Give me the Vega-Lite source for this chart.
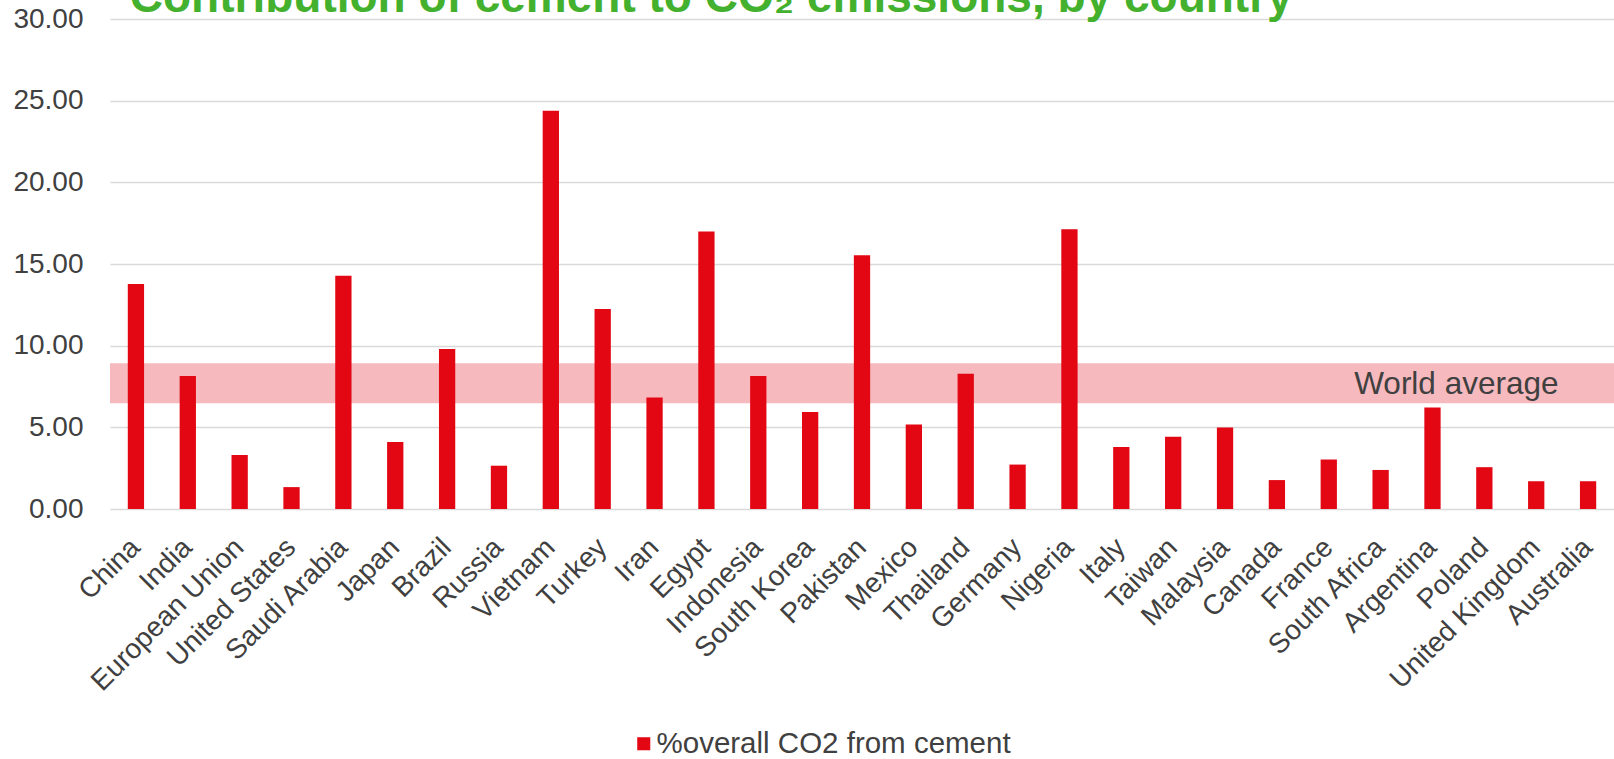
{
  "$schema": "https://vega.github.io/schema/vega-lite/v6.json",
  "width": 1504,
  "height": 490,
  "autosize": {"type": "none"},
  "padding": {"left": 110, "top": 19, "right": 0, "bottom": 250},
  "background": "white",
  "config": {
    "font": "Liberation Sans",
    "view": {"stroke": null}
  },
  "datasets": {
    "cement": [
      {"country": "China", "share": 13.78},
      {"country": "India", "share": 8.14},
      {"country": "European Union", "share": 3.3},
      {"country": "United States", "share": 1.34},
      {"country": "Saudi Arabia", "share": 14.28},
      {"country": "Japan", "share": 4.1},
      {"country": "Brazil", "share": 9.79},
      {"country": "Russia", "share": 2.65},
      {"country": "Vietnam", "share": 24.38},
      {"country": "Turkey", "share": 12.25},
      {"country": "Iran", "share": 6.82},
      {"country": "Egypt", "share": 16.99},
      {"country": "Indonesia", "share": 8.15},
      {"country": "South Korea", "share": 5.94},
      {"country": "Pakistan", "share": 15.54},
      {"country": "Mexico", "share": 5.18},
      {"country": "Thailand", "share": 8.28},
      {"country": "Germany", "share": 2.72},
      {"country": "Nigeria", "share": 17.12},
      {"country": "Italy", "share": 3.79},
      {"country": "Taiwan", "share": 4.42},
      {"country": "Malaysia", "share": 4.99},
      {"country": "Canada", "share": 1.77},
      {"country": "France", "share": 3.03},
      {"country": "South Africa", "share": 2.39},
      {"country": "Argentina", "share": 6.21},
      {"country": "Poland", "share": 2.56},
      {"country": "United Kingdom", "share": 1.7},
      {"country": "Australia", "share": 1.7}
    ],
    "worldBand": [
      {"label": "World average", "low": 6.47, "high": 8.92}
    ],
    "heading": [
      {"text": "Contribution of cement to CO₂ emissions, by country"}
    ]
  },
  "layer": [
    {
      "data": {"name": "worldBand"},
      "mark": {"type": "rect", "color": "#F6B9BE"},
      "encoding": {
        "y": {"field": "low", "type": "quantitative", "title": null, "scale": {"domain": [0, 30], "nice": false}},
        "y2": {"field": "high"}
      }
    },
    {
      "data": {"name": "cement"},
      "mark": {"type": "bar", "color": "#E30613"},
      "encoding": {
        "x": {
          "field": "country",
          "type": "nominal",
          "sort": null,
          "title": null,
          "scale": {
            "domain": ["China", "India", "European Union", "United States", "Saudi Arabia", "Japan", "Brazil", "Russia", "Vietnam", "Turkey", "Iran", "Egypt", "Indonesia", "South Korea", "Pakistan", "Mexico", "Thailand", "Germany", "Nigeria", "Italy", "Taiwan", "Malaysia", "Canada", "France", "South Africa", "Argentina", "Poland", "United Kingdom", "Australia"],
            "paddingInner": 0.686,
            "paddingOuter": 0.343
          },
          "axis": {
            "labelAngle": -45,
            "labelAlign": "right",
            "labelBaseline": "middle",
            "labelFontSize": 28,
            "labelColor": "#404040",
            "labelPadding": 34,
            "labelLimit": 400,
            "labelOverlap": false,
            "ticks": false,
            "domain": false,
            "grid": false
          }
        },
        "y": {
          "field": "share",
          "type": "quantitative",
          "title": null,
          "scale": {"domain": [0, 30], "nice": false},
          "axis": {
            "values": [0, 5, 10, 15, 20, 25, 30],
            "format": ".2f",
            "labelFontSize": 28,
            "labelColor": "#404040",
            "labelPadding": 27,
            "ticks": false,
            "domain": false,
            "gridColor": "#D9D9D9",
            "gridWidth": 1.5
          }
        },
        "color": {
          "datum": "%overall CO2 from cement",
          "scale": {"range": ["#E30613"]},
          "legend": {
            "title": null,
            "orient": "none",
            "legendX": 519,
            "legendY": 710,
            "padding": 0,
            "symbolType": "square",
            "symbolSize": 170,
            "symbolStrokeWidth": 0,
            "labelFontSize": 29.5,
            "labelColor": "#404040",
            "labelOffset": -2,
            "labelLimit": 600
          }
        }
      }
    },
    {
      "data": {"name": "worldBand"},
      "mark": {"type": "text", "align": "center", "baseline": "alphabetic", "fontSize": 31.5, "color": "#404040", "dx": -28},
      "encoding": {
        "text": {"field": "label"},
        "x": {"datum": "Poland"},
        "y": {"datum": 7.04, "scale": {"domain": [0, 30], "nice": false}}
      }
    },
    {
      "data": {"name": "heading"},
      "mark": {"type": "text", "align": "left", "baseline": "alphabetic", "fontSize": 46, "fontWeight": "bold", "color": "#44B12E", "dx": 2},
      "encoding": {
        "text": {"field": "text"},
        "x": {"datum": "China", "bandPosition": 0},
        "y": {"datum": 30.43, "scale": {"domain": [0, 30], "nice": false}}
      }
    }
  ]
}
